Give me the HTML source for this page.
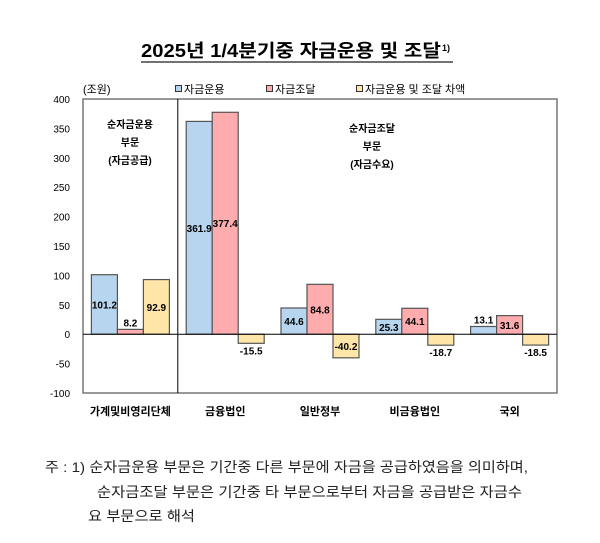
<!DOCTYPE html>
<html><head><meta charset="utf-8"><style>
body{margin:0;background:#fff;}
svg{display:block;font-family:"Liberation Sans","Noto Sans CJK KR",sans-serif;}
</style></head><body>
<svg id="chart" width="600" height="543" viewBox="0 0 600 543">
<text x="141" y="57" font-size="18" font-weight="bold" textLength="300" lengthAdjust="spacingAndGlyphs">2025년 1/4분기중 자금운용 및 조달</text>
<text x="442" y="51" font-size="9" font-weight="bold">1)</text>
<line x1="141" y1="62" x2="453" y2="62" stroke="#444" stroke-width="1.5"/>
<text x="83" y="93" font-size="11">(조원)</text>
<g>
 <g><rect x="175.5" y="85.5" width="6" height="6" fill="#b7d5ef" stroke="#333"/><text x="184" y="93" font-size="11">자금운용</text></g>
 <g><rect x="266.5" y="85.5" width="6" height="6" fill="#ffacae" stroke="#333"/><text x="275" y="93" font-size="11">자금조달</text></g>
 <g><rect x="356.5" y="85.5" width="6" height="6" fill="#ffe6a8" stroke="#333"/><text x="365" y="93" font-size="11">자금운용 및 조달 차액</text></g>
</g>
<g id="axis"></g>
<g id="bars"></g>
<text x="130" y="128" font-size="10" font-weight="bold" text-anchor="middle"><tspan x="130">순자금운용</tspan><tspan x="130" dy="18">부문</tspan><tspan x="130" dy="18">(자금공급)</tspan></text>
<text x="372" y="132" font-size="10" font-weight="bold" text-anchor="middle"><tspan x="372">순자금조달</tspan><tspan x="372" dy="18">부문</tspan><tspan x="372" dy="18">(자금수요)</tspan></text>
<g font-size="14" fill="#222">
<text x="45" y="472" textLength="483" lengthAdjust="spacingAndGlyphs">주 : 1) 순자금운용 부문은 기간중 다른 부문에 자금을 공급하였음을 의미하며,</text>
<text x="97" y="497" textLength="425" lengthAdjust="spacingAndGlyphs">순자금조달 부문은 기간중 타 부문으로부터 자금을 공급받은 자금수</text>
<text x="88" y="521" textLength="107" lengthAdjust="spacingAndGlyphs">요 부문으로 해석</text>
</g>
</svg>
<script>
const categories = ["가계및비영리단체","금융법인","일반정부","비금융법인","국외"];
const useValues = [101.2, 361.9, 44.6, 25.3, 13.1];
const raiseValues = [8.2, 377.4, 84.8, 44.1, 31.6];
const diffValues = [92.9, -15.5, -40.2, -18.7, -18.5];
const yTicks = [400,350,300,250,200,150,100,50,0,-50,-100];

const NS="http://www.w3.org/2000/svg";
const L=83,R=557,T=99,B=393,yMin=-100,yMax=400;
const y=v=>B-(v-yMin)/(yMax-yMin)*(B-T);
const gw=(R-L)/categories.length;
const bw=26;
function mk(tag,attrs,parent){const e=document.createElementNS(NS,tag);for(const k in attrs)e.setAttribute(k,attrs[k]);parent.appendChild(e);return e;}
const axis=document.getElementById('axis'), bars=document.getElementById('bars');
const frame=mk('rect',{x:L,y:T,width:R-L,height:B-T,fill:'none',stroke:'#777','stroke-width':1.5},axis);


yTicks.forEach(t=>{
 const tx=mk('text',{x:70,y:y(t)+4,'font-size':10,'text-anchor':'end'},axis);
 tx.textContent=t;
 
 
});
const div=mk('line',{x1:L+gw,y1:T,x2:L+gw,y2:B,stroke:'#000','stroke-width':1},axis);


const series=[[useValues,'#b7d5ef','use'],[raiseValues,'#ffacae','raise'],[diffValues,'#ffe6a8','diff']];
categories.forEach((c,i)=>{
 const gx=L+gw*i+(gw-3*bw)/2;
 series.forEach(([vals,col,nm],s)=>{
  const v=vals[i],x=gx+s*bw,y0=y(0),y1=y(v);
  const r=mk('rect',{x:x,y:Math.min(y0,y1),width:bw,height:Math.abs(y1-y0),fill:col,stroke:'#555','stroke-width':1.2},bars);
  
  
  const h=Math.abs(y1-y0);let ly;
  if(h>=14) ly=(y0+y1)/2+4; else if(v>=0) ly=y1-3; else ly=y1+11;
  const t=mk('text',{x:x+bw/2,y:ly,'font-size':10,'font-weight':'bold','text-anchor':'middle'},bars);
  t.textContent=v.toFixed(1);
  
  
 });
 const xl=mk('text',{x:L+gw*i+gw/2,y:415,'font-size':11,'font-weight':'bold','text-anchor':'middle'},axis);
 xl.textContent=c;
 
 
});
const z=mk('line',{x1:L,y1:y(0),x2:R,y2:y(0),stroke:'#000','stroke-width':1},bars);


</script>
</body></html>
